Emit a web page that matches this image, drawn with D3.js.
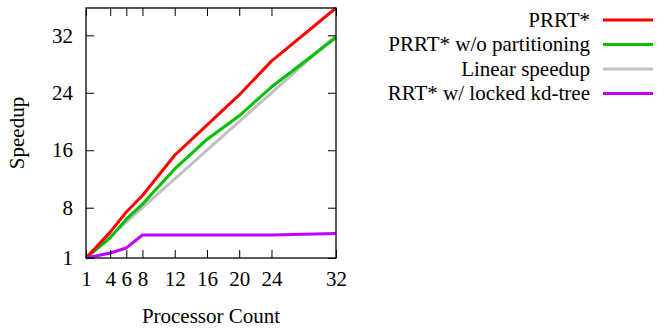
<!DOCTYPE html>
<html>
<head>
<meta charset="utf-8">
<script src="https://cdn.jsdelivr.net/npm/d3@7"></script>
<style>
  body { margin: 0; background: #fff; }
</style>
</head>
<body>
<div id="chart"></div>
<script>
// data
const procs = [1, 4, 6, 8, 12, 16, 20, 24, 32];
const prrt = [1, 4.6, 7.4, 9.7, 15.3, 19.5, 23.7, 28.4, 35.8];
const prrtNoPart = [1, 3.8, 6.4, 8.5, 13.4, 17.5, 20.8, 24.8, 31.7];
const linear = [1, 4, 6, 8, 12, 16, 20, 24, 32];
const locked = [1, 1.7, 2.4, 4.2, 4.2, 4.2, 4.2, 4.2, 4.4];
const xTicks = [1, 4, 6, 8, 12, 16, 20, 24, 32];
const yTicks = [1, 8, 16, 24, 32];

const series = [
  {name: "Linear speedup", values: linear, color: "#c0c0c0", order: 2},
  {name: "PRRT* w/o partitioning", values: prrtNoPart, color: "#00c000", order: 1},
  {name: "PRRT*", values: prrt, color: "#ff0000", order: 0},
  {name: "RRT* w/ locked kd-tree", values: locked, color: "#c000ff", order: 3}
];

const FONT = '"Liberation Serif", "Times New Roman", serif';
const FS = "21px";

const W = 670, H = 329;
const margin = {top: 8, right: 334, bottom: 71, left: 86},
    width = W - margin.left - margin.right,
    height = H - margin.top - margin.bottom;

const svg = d3.select("#chart")
  .append("svg")
    .attr("width", W)
    .attr("height", H)
  .append("g")
    .attr("transform", `translate(${margin.left},${margin.top})`);

const x = d3.scaleLinear().domain([1, 32]).range([0, width]);
const y = d3.scaleLinear().domain([1, 35.8]).range([height, 0]);

// lines
const line = d3.line()
  .x((d, i) => x(procs[i]))
  .y(d => y(d));

series.forEach(s => {
  svg.append("path")
    .attr("d", line(s.values))
    .attr("fill", "none")
    .attr("stroke", s.color)
    .attr("stroke-width", 3)
    .attr("stroke-linejoin", "round");
});

// axes, ticks pointing inward, mirrored on top/right
const tl = 8;
svg.append("g")
  .attr("transform", `translate(0,${height})`)
  .call(d3.axisBottom(x).tickValues(xTicks).tickSize(-tl).tickPadding(13).tickSizeOuter(0))
  .call(g => g.select(".domain").remove())
  .selectAll("text").attr("font-family", FONT).attr("font-size", FS);
svg.append("g")
  .call(d3.axisTop(x).tickValues(xTicks).tickSize(-tl).tickFormat("").tickSizeOuter(0))
  .call(g => g.select(".domain").remove());
svg.append("g")
  .call(d3.axisLeft(y).tickValues(yTicks).tickSize(-tl).tickPadding(13).tickSizeOuter(0))
  .call(g => g.select(".domain").remove())
  .selectAll("text").attr("font-family", FONT).attr("font-size", FS);
svg.append("g")
  .attr("transform", `translate(${width},0)`)
  .call(d3.axisRight(y).tickValues(yTicks).tickSize(-tl).tickFormat("").tickSizeOuter(0))
  .call(g => g.select(".domain").remove());

svg.selectAll(".tick line").attr("stroke", "#000").attr("stroke-width", 1);

// frame
svg.append("rect")
  .attr("width", width)
  .attr("height", height)
  .attr("fill", "none")
  .attr("stroke", "#000")
  .attr("stroke-width", 1.3);

// axis titles
svg.append("text")
  .attr("x", width / 2)
  .attr("y", height + 65)
  .attr("text-anchor", "middle")
  .attr("font-family", FONT).attr("font-size", FS)
  .text("Processor Count");

svg.append("text")
  .attr("transform", `translate(${-62},${height / 2}) rotate(-90)`)
  .attr("text-anchor", "middle")
  .attr("font-family", FONT).attr("font-size", FS)
  .text("Speedup");

// legend
const legend = svg.append("g")
  .attr("transform", `translate(${width},0)`);
const legendOrder = series.slice().sort((a, b) => a.order - b.order);
legendOrder.forEach((s, i) => {
  const ly = 12 + i * 24.5;
  legend.append("text")
    .attr("x", 254)
    .attr("y", ly)
    .attr("dy", "0.33em")
    .attr("text-anchor", "end")
    .attr("font-family", FONT).attr("font-size", FS)
    .text(s.name);
  legend.append("line")
    .attr("x1", 267).attr("x2", 317)
    .attr("y1", ly).attr("y2", ly)
    .attr("stroke", s.color)
    .attr("stroke-width", 3);
});
</script>
</body>
</html>
